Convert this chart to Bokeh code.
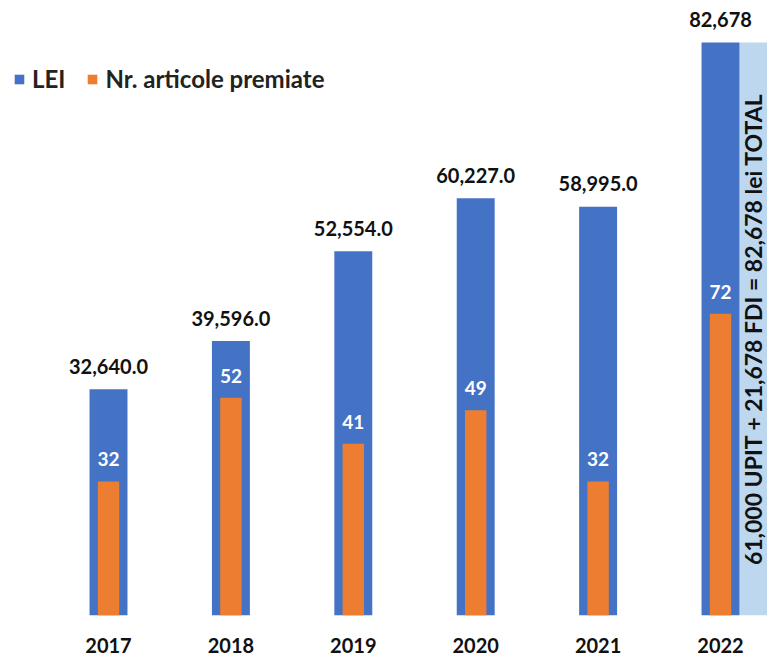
import math
from bokeh.plotting import figure
from bokeh.models import (ColumnDataSource, Range1d, FixedTicker, Legend, LegendItem)
from bokeh.core.properties import value
from bokeh.embed import file_html
from bokeh.resources import INLINE

# ---- data ----
years = ["2017", "2018", "2019", "2020", "2021", "2022"]
lei = [32640, 39596, 52554, 60227, 58995, 82678]
lei_labels = ["32,640.0", "39,596.0", "52,554.0", "60,227.0", "58,995.0", "82,678"]
articole = [32, 52, 41, 49, 32, 72]
note_text = "61,000 UPIT + 21,678 FDI = 82,678 lei TOTAL"

BLUE = "#4472C4"
ORANGE = "#ED7D31"
LIGHT = "#BDD7EE"
FONT = "Lato"

xs = list(range(len(years)))
src = ColumnDataSource(dict(
    x=xs, lei=lei, lei_lab=lei_labels, art=articole,
    art_lab=[str(a) for a in articole],
))

FRAME_W, FRAME_H = 767, 615
LEI_MAX = 88745
ART_MAX = 146.8
X0 = -0.8824
X1 = X0 + FRAME_W / 122.4

p = figure(frame_width=FRAME_W, frame_height=FRAME_H, output_backend="svg",
           toolbar_location=None, min_border=0, y_axis_location=None,
           x_range=Range1d(X0, X1), y_range=Range1d(0, LEI_MAX),
           outline_line_color=None)
p.extra_y_ranges = {"art": Range1d(0, ART_MAX)}
p.xgrid.visible = False
p.ygrid.visible = False

BAR_W = 0.31
# light blue annotation box beside the 2022 bar
last = len(years) - 1
box_left = last + BAR_W / 2
box_right = X1
p.quad(left=[box_left], right=[box_right], bottom=[0], top=[lei[last]],
       fill_color=LIGHT, line_color=None)

r_lei = p.vbar(x="x", top="lei", width=BAR_W, source=src, fill_color=BLUE, line_color=None)
r_art = p.vbar(x="x", top="art", width=0.175, source=src, fill_color=ORANGE,
               line_color=None, y_range_name="art")

p.text(x="x", y="lei", text="lei_lab", source=src, text_align="center",
       text_baseline="middle", y_offset=-23, text_font=value(FONT),
       text_font_style="bold", text_font_size="20px", text_color="#111111")
p.text(x="x", y="art", text="art_lab", source=src, text_align="center",
       text_baseline="middle", y_offset=-22, text_font=value(FONT),
       text_font_style="bold", text_font_size="19px", text_color="white",
       y_range_name="art")

p.text(x=[(box_left + box_right) / 2], y=[lei[last] / 2], text=[note_text],
       angle=math.pi / 2, text_align="center", text_baseline="middle",
       text_font=value(FONT), text_font_style="bold", text_font_size="23px",
       text_color="#111111")

ax = p.xaxis[0]
ax.ticker = FixedTicker(ticks=xs)
ax.major_label_overrides = {i: y for i, y in enumerate(years)}
ax.axis_line_color = None
ax.major_tick_line_color = None
ax.minor_tick_line_color = None
ax.major_tick_out = 0
ax.major_tick_in = 0
ax.major_label_standoff = 22
ax.major_label_text_font = FONT
ax.major_label_text_font_style = "bold"
ax.major_label_text_font_size = "20px"
ax.major_label_text_color = "#111111"

legend = Legend(items=[LegendItem(label="LEI", renderers=[r_lei]),
                       LegendItem(label="Nr. articole premiate", renderers=[r_art])],
                orientation="horizontal", location=(13, 522),
                glyph_width=12, glyph_height=12, label_standoff=7, spacing=21,
                padding=0, margin=0, border_line_color=None,
                background_fill_alpha=0,
                label_text_font=FONT, label_text_font_style="bold",
                label_text_font_size="24px", label_text_color="#222222")
p.add_layout(legend)

open("out.html", "w").write(file_html(p, INLINE))
